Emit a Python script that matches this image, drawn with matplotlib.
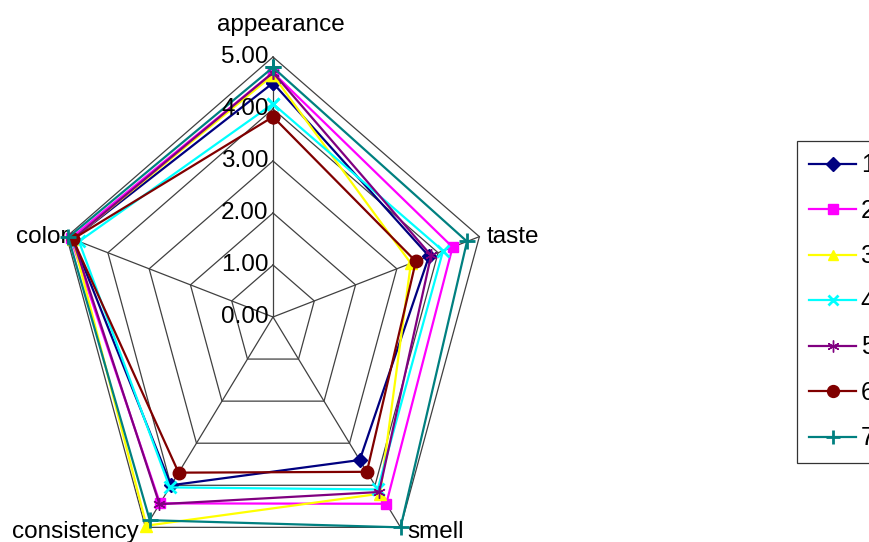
import numpy as np
import matplotlib
matplotlib.use("Agg")
import matplotlib.pyplot as plt

plt.rcParams['font.family'] = ['Liberation Sans', 'DejaVu Sans']

# Attributes around the radar, clockwise from the top
categories = ["appearance", "taste", "smell", "consistency", "color"]
series_names = ["1", "2", "3", "4", "5", "6", "7"]

s1 = [4.50, 3.78, 3.40, 4.00, 4.85]
s2 = [4.70, 4.35, 4.44, 4.43, 4.90]
s3 = [4.65, 3.34, 4.20, 4.96, 4.85]
s4 = [4.10, 4.12, 4.10, 4.05, 4.70]
s5 = [4.70, 3.83, 4.16, 4.45, 4.85]
s6 = [3.85, 3.46, 3.68, 3.70, 4.85]
s7 = [4.80, 4.70, 5.00, 4.83, 4.96]
series_values = [s1, s2, s3, s4, s5, s6, s7]

tick_values = [0, 1, 2, 3, 4, 5]
tick_labels = ["0.00", "1.00", "2.00", "3.00", "4.00", "5.00"]

colors = ["#000080", "#FF00FF", "#FFFF00", "#00FFFF", "#800080", "#800000", "#008080"]
markers = ["D", "s", "^", "x", (6, 2, 0), "o", "+"]
msizes = [7, 7, 8, 8, 9, 9, 11]

W, H, DPI = 870, 542, 100
fig = plt.figure(figsize=(W / DPI, H / DPI), dpi=DPI)
ax = fig.add_axes([0, 0, 1, 1])

# Radar frame: centre and per-unit scale (x and y differ, as in the stretched layout)
cx_px, cy_px = 273, 317
sx, sy = 43.4, 52.0
ax.set_xlim(-cx_px / sx, (W - cx_px) / sx)
ax.set_ylim(-(H - cy_px) / sy, cy_px / sy)
ax.axis("off")

n = len(categories)
angles = np.pi / 2 - 2 * np.pi * np.arange(n) / n


def to_xy(vals):
    v = np.asarray(vals, dtype=float)
    return v * np.cos(angles), v * np.sin(angles)


grid_kw = dict(color="#404040", lw=0.9, zorder=1)
for t in tick_values[1:]:
    gx, gy = to_xy([t] * n)
    ax.plot(np.append(gx, gx[0]), np.append(gy, gy[0]), **grid_kw)
rmax = tick_values[-1]
for a in angles:
    ax.plot([0, rmax * np.cos(a)], [0, rmax * np.sin(a)], **grid_kw)

# Value labels along the top spoke
for t, lab in zip(tick_values, tick_labels):
    ax.text(-0.1, t, lab, ha="right", va="center", fontsize=17.5, color="black", zorder=5)

# Category labels outside the outer ring
label_offsets = [(6, 23, "center", "center"),
                 (5, 0, "left", "center"),
                 (5, -3, "left", "center"),
                 (-5, -3, "right", "center"),
                 (1, 0, "right", "center")]
for cat, a, (dx, dy, ha, va) in zip(categories, angles, label_offsets):
    ax.annotate(cat, (rmax * np.cos(a), rmax * np.sin(a)), xytext=(dx, dy),
                textcoords="offset points", ha=ha, va=va, fontsize=17.5)

for name, vals, c, m, ms in zip(series_names, series_values, colors, markers, msizes):
    x, y = to_xy(vals)
    ax.plot(np.append(x, x[0]), np.append(y, y[0]), color=c, lw=1.6,
            marker=m, markersize=ms, markerfacecolor=c, markeredgecolor=c,
            markeredgewidth=2 if m in ("x", "+") else 1, label=name, zorder=3)

leg = ax.legend(loc="upper left", bbox_to_anchor=(797 / W, 1 - 141 / H),
                bbox_transform=fig.transFigure, frameon=True, fancybox=False,
                edgecolor="black", fontsize=18, handlelength=1.85, handletextpad=0.2,
                labelspacing=0.86, borderpad=0.5, borderaxespad=0, markerscale=0.95)
leg.get_frame().set_linewidth(0.9)

fig.savefig("out.png", dpi=DPI)
